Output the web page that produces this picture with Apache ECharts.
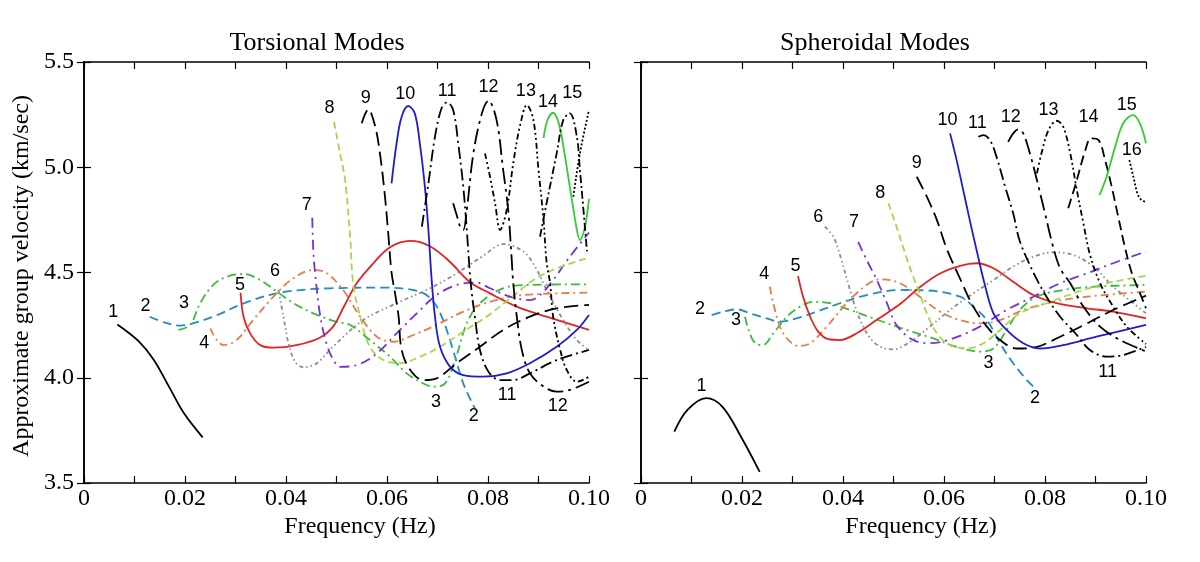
<!DOCTYPE html>
<html><head><meta charset="utf-8">
<script src="https://cdn.jsdelivr.net/npm/echarts@6/dist/echarts.min.js"></script>
<style>html,body{margin:0;padding:0;background:#fff}#c{width:1200px;height:562px}</style>
</head><body><div id="c"></div>
<script>
// ---------- Torsional modes (frequency Hz, group velocity km/s) ----------
const t1 = [[0.0066,4.253],[0.0108,4.174],[0.0138,4.086],[0.0168,3.959],[0.0198,3.831],[0.0235,3.717]];
const t2 = [[0.013,4.29],[0.016,4.262],[0.0191,4.248],[0.022,4.262],[0.0259,4.293],[0.032,4.357],[0.0388,4.404],[0.0487,4.425],[0.0592,4.428],[0.0665,4.409],[0.0692,4.361],[0.0711,4.275],[0.0731,4.13],[0.0751,3.973],[0.0774,3.855]];
const t3 = [[0.0187,4.227],[0.021,4.25],[0.023,4.354],[0.0256,4.441],[0.0283,4.48],[0.0316,4.493],[0.0349,4.464],[0.0382,4.409],[0.0415,4.354],[0.0454,4.306],[0.05,4.266],[0.0527,4.251],[0.0566,4.179],[0.0606,4.1],[0.0639,4.021],[0.0672,3.973],[0.0692,3.958],[0.0715,3.973],[0.0735,4.084],[0.0758,4.259],[0.0784,4.354],[0.083,4.425],[0.0883,4.441],[0.1,4.444]];
const t4 = [[0.025,4.235],[0.0263,4.179],[0.0276,4.155],[0.0302,4.179],[0.0335,4.274],[0.0375,4.385],[0.0414,4.472],[0.0454,4.512],[0.048,4.498],[0.0513,4.417],[0.0547,4.29],[0.058,4.195],[0.0612,4.171],[0.0652,4.203],[0.0698,4.251],[0.0751,4.314],[0.0804,4.361],[0.087,4.393],[0.1,4.404]];
const t5 = [[0.031,4.404],[0.0316,4.29],[0.0329,4.211],[0.0349,4.155],[0.0375,4.143],[0.0421,4.155],[0.0467,4.19],[0.0494,4.245],[0.0513,4.33],[0.054,4.449],[0.0573,4.544],[0.0606,4.62],[0.0646,4.65],[0.0685,4.625],[0.0725,4.55],[0.0764,4.455],[0.0804,4.401],[0.0857,4.338],[0.0916,4.29],[0.1,4.227]];
const t6 = [[0.0385,4.417],[0.0395,4.29],[0.0405,4.164],[0.0418,4.076],[0.0434,4.05],[0.0461,4.069],[0.0494,4.15],[0.0553,4.274],[0.0619,4.354],[0.0685,4.425],[0.0738,4.496],[0.0791,4.58],[0.083,4.635],[0.087,4.6],[0.0895,4.52],[0.0916,4.417],[0.0949,4.274],[0.0976,4.179],[0.1,4.132]];
const t7 = [[0.0452,4.76],[0.0454,4.607],[0.0457,4.512],[0.0467,4.306],[0.048,4.164],[0.0494,4.084],[0.0507,4.052],[0.054,4.06],[0.058,4.116],[0.0619,4.211],[0.0659,4.306],[0.0698,4.393],[0.0738,4.441],[0.0778,4.452],[0.0804,4.425],[0.0844,4.385],[0.0883,4.369],[0.0903,4.393],[0.0929,4.464],[0.0962,4.575],[0.1,4.69]];
const t8 = [[0.0495,5.216],[0.0507,5.066],[0.0517,4.94],[0.0527,4.67],[0.0533,4.449],[0.0547,4.29],[0.0566,4.147],[0.0593,4.084],[0.0626,4.069],[0.0665,4.1],[0.0705,4.147],[0.0751,4.219],[0.0797,4.29],[0.0844,4.377],[0.089,4.464],[0.0936,4.52],[0.1,4.57]];
const t9 = [[0.055,5.209],[0.0563,5.275],[0.0576,5.2],[0.0586,5.066],[0.0596,4.86],[0.0603,4.67],[0.0609,4.5],[0.0616,4.4],[0.0623,4.29],[0.0629,4.132],[0.0646,4.037],[0.0672,3.989],[0.0698,3.997],[0.0738,4.069],[0.0784,4.147],[0.083,4.227],[0.0883,4.29],[0.0936,4.33],[0.1,4.346]];
const t10 = [[0.0609,4.923],[0.0619,5.114],[0.0629,5.24],[0.0642,5.291],[0.0655,5.256],[0.0665,5.114],[0.0675,4.908],[0.0682,4.702],[0.0688,4.48],[0.0695,4.29],[0.0705,4.147],[0.0725,4.052],[0.0751,4.013],[0.0791,4.005],[0.0837,4.021],[0.0883,4.069],[0.0936,4.147],[0.0976,4.227],[0.1,4.298]];
const t11 = [[0.0669,4.718],[0.0682,4.923],[0.0695,5.145],[0.0708,5.28],[0.0719,5.309],[0.0731,5.272],[0.0741,5.114],[0.0751,4.908],[0.0758,4.702],[0.0764,4.5],[0.0768,4.4],[0.0774,4.29],[0.0784,4.132],[0.0801,4.029],[0.0824,3.989],[0.085,3.989],[0.0883,4.021],[0.0936,4.084],[0.1,4.132]];
const t12 = [[0.0731,4.829],[0.0739,4.765],[0.0746,4.71],[0.0751,4.702],[0.0758,4.797],[0.0771,5.066],[0.0788,5.256],[0.0801,5.316],[0.0817,5.224],[0.083,4.987],[0.084,4.797],[0.0847,4.56],[0.085,4.449],[0.0857,4.29],[0.0867,4.132],[0.0883,4.021],[0.091,3.958],[0.0936,3.934],[0.0962,3.942],[0.1,3.981]];
const t13 = [[0.0794,5.066],[0.0804,4.955],[0.0814,4.829],[0.0824,4.702],[0.0837,4.797],[0.085,5.019],[0.0863,5.193],[0.0877,5.296],[0.089,5.224],[0.09,4.987],[0.091,4.749],[0.0916,4.55],[0.0923,4.449],[0.0929,4.29],[0.0943,4.132],[0.0956,4.037],[0.0976,3.981],[0.1,4.005]];
const t14 = [[0.091,5.138],[0.0918,5.225],[0.0929,5.259],[0.0938,5.225],[0.0946,5.145],[0.0962,4.908],[0.0976,4.702],[0.0982,4.654],[0.0992,4.718],[0.1,4.85]];
const t15 = [[0.0903,4.67],[0.0916,4.829],[0.0936,5.066],[0.0949,5.224],[0.0962,5.256],[0.0976,5.145],[0.0982,4.987],[0.0989,4.797],[0.0996,4.6]];
const t16 = [[0.0969,4.86],[0.0982,5.066],[0.1,5.272]];

// ---------- Spheroidal modes ----------
const s1 = [[0.0066,3.744],[0.0092,3.847],[0.0129,3.903],[0.0161,3.863],[0.0198,3.72],[0.0235,3.553]];
const s2 = [[0.014,4.298],[0.0163,4.314],[0.019,4.325],[0.0216,4.306],[0.0249,4.282],[0.0275,4.266],[0.0308,4.282],[0.0348,4.314],[0.0394,4.354],[0.0447,4.393],[0.0513,4.417],[0.0566,4.415],[0.0632,4.385],[0.0658,4.338],[0.0685,4.274],[0.0711,4.164],[0.0737,4.069],[0.0764,3.989],[0.0777,3.958]];
const s3 = [[0.0206,4.29],[0.0213,4.227],[0.0226,4.164],[0.0242,4.156],[0.0262,4.211],[0.0289,4.29],[0.0315,4.338],[0.0341,4.361],[0.0374,4.354],[0.0414,4.322],[0.046,4.282],[0.0526,4.227],[0.0579,4.187],[0.0625,4.147],[0.0671,4.124],[0.0698,4.139],[0.0724,4.227],[0.075,4.322],[0.0784,4.385],[0.0836,4.417],[0.0902,4.433],[0.1,4.441]];
const s4 = [[0.0255,4.433],[0.0262,4.354],[0.0275,4.243],[0.0292,4.179],[0.0311,4.151],[0.0335,4.164],[0.0368,4.243],[0.0407,4.354],[0.0447,4.441],[0.0473,4.468],[0.0513,4.449],[0.0552,4.385],[0.0592,4.314],[0.0632,4.274],[0.0671,4.258],[0.0711,4.274],[0.0757,4.322],[0.0817,4.361],[0.0883,4.385],[0.1,4.409]];
const s5 = [[0.0311,4.483],[0.0321,4.385],[0.0335,4.29],[0.0351,4.219],[0.0371,4.183],[0.0394,4.179],[0.0427,4.211],[0.047,4.28],[0.0513,4.35],[0.0552,4.43],[0.0592,4.495],[0.0632,4.532],[0.0665,4.544],[0.0698,4.52],[0.0737,4.456],[0.0777,4.393],[0.0823,4.354],[0.0883,4.33],[0.0935,4.314],[0.1,4.282]];
const s6 = [[0.0364,4.718],[0.0381,4.67],[0.0397,4.559],[0.041,4.449],[0.0424,4.338],[0.044,4.243],[0.046,4.171],[0.0483,4.139],[0.05,4.135],[0.0533,4.171],[0.0572,4.243],[0.0612,4.322],[0.0658,4.401],[0.0698,4.464],[0.0737,4.528],[0.0777,4.575],[0.0816,4.596],[0.0856,4.583],[0.0896,4.528],[0.0935,4.433],[0.0975,4.354],[0.1,4.306]];
const s7 = [[0.043,4.646],[0.0447,4.559],[0.0467,4.464],[0.0487,4.354],[0.0506,4.25],[0.0539,4.179],[0.0572,4.164],[0.0618,4.187],[0.0671,4.243],[0.0724,4.322],[0.0777,4.385],[0.083,4.449],[0.0883,4.496],[0.0935,4.544],[0.1,4.6]];
const s8 = [[0.049,4.829],[0.0506,4.718],[0.0523,4.591],[0.0539,4.48],[0.0552,4.4],[0.0566,4.306],[0.0586,4.211],[0.0612,4.155],[0.0645,4.139],[0.0678,4.164],[0.0711,4.227],[0.075,4.306],[0.0803,4.354],[0.0856,4.401],[0.0922,4.449],[0.1,4.484]];
const s9 = [[0.0546,4.955],[0.0566,4.86],[0.0586,4.749],[0.0605,4.615],[0.0632,4.47],[0.0658,4.338],[0.0685,4.243],[0.0711,4.179],[0.0744,4.139],[0.0784,4.147],[0.083,4.195],[0.0883,4.258],[0.0935,4.322],[0.1,4.39]];
const s10 = [[0.0612,5.161],[0.0625,5.034],[0.0638,4.892],[0.0651,4.749],[0.0666,4.591],[0.068,4.45],[0.0698,4.306],[0.0724,4.227],[0.0757,4.164],[0.079,4.139],[0.0836,4.155],[0.0902,4.195],[0.1,4.251]];
const s11 = [[0.0668,5.145],[0.0678,5.153],[0.0691,5.129],[0.0704,5.05],[0.0721,4.908],[0.0737,4.781],[0.075,4.65],[0.0777,4.5],[0.0803,4.385],[0.083,4.29],[0.0863,4.203],[0.0889,4.132],[0.0922,4.1],[0.0955,4.108],[0.1,4.147]];
const s12 = [[0.0727,5.121],[0.0737,5.161],[0.0747,5.18],[0.0757,5.161],[0.077,5.066],[0.0784,4.939],[0.08,4.781],[0.0816,4.623],[0.083,4.52],[0.085,4.449],[0.0876,4.338],[0.0909,4.243],[0.0949,4.179],[0.1,4.125]];
const s13 = [[0.0784,4.971],[0.0793,5.066],[0.0807,5.177],[0.0823,5.221],[0.0836,5.193],[0.085,5.066],[0.0863,4.892],[0.0876,4.734],[0.0889,4.585],[0.0909,4.449],[0.0935,4.338],[0.0962,4.243],[0.1,4.16]];
const s14 = [[0.0846,4.805],[0.0863,4.939],[0.088,5.082],[0.0891,5.137],[0.0906,5.129],[0.0919,5.034],[0.0932,4.908],[0.0945,4.765],[0.0958,4.623],[0.0972,4.496],[0.0985,4.42],[0.1,4.33]];
const s15 = [[0.0908,4.868],[0.0922,4.955],[0.0939,5.098],[0.0955,5.209],[0.0974,5.248],[0.0988,5.209],[0.1,5.114]];
const s16 = [[0.0967,5.034],[0.0975,4.955],[0.0983,4.876],[0.0991,4.844],[0.1,4.836]];

// ---------- Mode number labels [freq, velocity, text] ----------
const tLabels = [[0.0058,4.314,'1'],[0.0122,4.341,'2'],[0.0198,4.354,'3'],[0.0238,4.164,'4'],[0.0309,4.441,'5'],[0.0378,4.509,'6'],[0.0441,4.821,'7'],[0.0486,5.28,'8'],[0.0558,5.328,'9'],[0.0636,5.348,'10'],[0.0719,5.364,'11'],[0.0801,5.383,'12'],[0.0875,5.364,'13'],[0.0919,5.311,'14'],[0.0967,5.351,'15'],[0.0697,3.886,'3'],[0.0772,3.82,'2'],[0.0838,3.918,'11'],[0.0938,3.867,'12']];
const sLabels = [[0.012,3.961,'1'],[0.0117,4.325,'2'],[0.0188,4.274,'3'],[0.0244,4.491,'4'],[0.0306,4.532,'5'],[0.0351,4.765,'6'],[0.0422,4.741,'7'],[0.0474,4.879,'8'],[0.0546,5.022,'9'],[0.0607,5.224,'10'],[0.0666,5.209,'11'],[0.0732,5.24,'12'],[0.0807,5.272,'13'],[0.0886,5.237,'14'],[0.0962,5.296,'15'],[0.0972,5.082,'16'],[0.0688,4.069,'3'],[0.078,3.902,'2'],[0.0924,4.026,'11']];

const xTickValues = [0, 0.02, 0.04, 0.06, 0.08, 0.10];
const yTickValues = [3.5, 4.0, 4.5, 5.0, 5.5];
const panelTitles = ['Torsional Modes', 'Spheroidal Modes'];

// ---------- styles ----------
const C = {k:'#000000', b2:'#1f8bc9', g3:'#3dba3a', o4:'#e97b45', r5:'#e2231f', gr6:'#8c8c8c', p7:'#7a2ee0', l8:'#a2d84c', b10:'#1c1cd0', g14:'#36cc33'};
const DS = {solid:'solid', d2:[9,5], dd3:[9,4,2,4], dd4:[8,4,2,4], g6:[4,3,1.5,3,1.5,3], p7:[10,5,2,5], l8:[7,4], ld9:[14,6], dd11:[12,4,2,4], dd12:[16,5,3,5], ddd13:[6,3,2,3,2,3], d14:[10,5], dd15:[8,3,2,3], dot:[2,2]};

const tSeries = [
  [t1,C.k,DS.solid],[t2,C.b2,DS.d2],[t3,C.g3,DS.dd3],[t4,C.o4,DS.dd4],[t5,C.r5,DS.solid],[t6,C.gr6,DS.g6],[t7,C.p7,DS.p7],[t8,C.l8,DS.l8],
  [t9,C.k,DS.ld9],[t10,C.b10,DS.solid],[t11,C.k,DS.dd11],[t12,C.k,DS.dd12],[t13,C.k,DS.ddd13],[t14,C.g14,DS.solid],[t15,C.k,DS.dd15],[t16,C.k,DS.dot]
];
const sSeries = [
  [s1,C.k,DS.solid],[s2,C.b2,DS.d2],[s3,C.g3,DS.dd3],[s4,C.o4,DS.dd4],[s5,C.r5,DS.solid],[s6,C.gr6,DS.g6],[s7,C.p7,DS.p7],[s8,C.l8,DS.l8],
  [s9,C.k,DS.ld9],[s10,C.b10,DS.solid],[s11,C.k,DS.dd11],[s12,C.k,DS.dd12],[s13,C.k,DS.ddd13],[s14,C.k,DS.d14],[s15,C.g14,DS.solid],[s16,C.k,DS.dot]
];

const SERIF = "'Liberation Serif','Times New Roman',serif";
const SANS = "'Liberation Sans',Arial,sans-serif";

function lineSeries(def, xi, yi){
  return {type:'line', xAxisIndex:xi, yAxisIndex:yi, data:def[0], symbol:'none', showSymbol:false,
    smooth:0.35, silent:true, z:3, lineStyle:{color:def[1], width:1.8, type:def[2]}};
}
function labelSeries(lbls, xi, yi){
  return {type:'scatter', xAxisIndex:xi, yAxisIndex:yi, symbol:'circle', symbolSize:0, silent:true, z:5,
    itemStyle:{color:'#000000', opacity:1},
    data: lbls.map(l => ({value:[l[0], l[1]], name:l[2]})),
    label:{show:true, position:'inside', formatter:'{b}', color:'#000000', opacity:1, textBorderWidth:0,
      fontFamily:SANS, fontSize:18}};
}

const fmtX = v => { const r = Math.round(v*100); if (r % 2) return ''; return r === 0 ? '0' : (r/100).toFixed(2); };
const grids = [{left:84, top:62, width:505, height:421}, {left:641, top:62, width:505, height:421}];

const xAxes = [], yAxes = [];
[0,1].forEach(g => {
  const base = {type:'value', gridIndex:g, min:xTickValues[0], max:xTickValues[xTickValues.length-1], interval:0.01,
    splitLine:{show:false}, axisLine:{show:true, lineStyle:{color:'#000', width:1.6}},
    axisTick:{show:true, inside:true, length:7, lineStyle:{color:'#000', width:1.2}}};
  xAxes.push(Object.assign({}, base, {position:'bottom', axisLabel:{show:true, formatter:fmtX, color:'#000', fontFamily:SERIF, fontSize:24, margin:4}}));
  xAxes.push(Object.assign({}, base, {position:'top', axisLabel:{show:false}}));
  const ybase = {type:'value', gridIndex:g, min:yTickValues[0], max:yTickValues[yTickValues.length-1], interval:0.5,
    splitLine:{show:false}, axisLine:{show:true, lineStyle:{color:'#000', width:1.6}},
    axisTick:{show:true, inside:true, length:7, lineStyle:{color:'#000', width:1.2}}};
  yAxes.push(Object.assign({}, ybase, {position:'left', axisLabel:{show:g===0, formatter:v=>v.toFixed(1), color:'#000', fontFamily:SERIF, fontSize:24, margin:10}}));
  yAxes.push(Object.assign({}, ybase, {position:'right', axisLabel:{show:false}}));
});

const series = [];
tSeries.forEach(d => series.push(lineSeries(d, 0, 0)));
sSeries.forEach(d => series.push(lineSeries(d, 2, 2)));
series.push(labelSeries(tLabels, 0, 0));
series.push(labelSeries(sLabels, 2, 2));

const chart = echarts.init(document.getElementById('c'), null, {renderer:'canvas'});
chart.setOption({
  animation:false,
  backgroundColor:'#ffffff',
  grid: grids,
  xAxis: xAxes,
  yAxis: yAxes,
  series: series,
  graphic: [
    {type:'text', x:317, y:43, style:{text:panelTitles[0], font:'26px '+SERIF, fill:'#000', align:'center', verticalAlign:'middle'}},
    {type:'text', x:875, y:43, style:{text:panelTitles[1], font:'26px '+SERIF, fill:'#000', align:'center', verticalAlign:'middle'}},
    {type:'text', x:360, y:527, style:{text:'Frequency (Hz)', font:'24px '+SERIF, fill:'#000', align:'center', verticalAlign:'middle'}},
    {type:'text', x:921, y:527, style:{text:'Frequency (Hz)', font:'24px '+SERIF, fill:'#000', align:'center', verticalAlign:'middle'}},
    {type:'text', x:22, y:276, rotation:Math.PI/2, style:{text:'Approximate group velocity (km/sec)', font:'24px '+SERIF, fill:'#000', align:'center', verticalAlign:'middle'}}
  ]
});
</script></body></html>
